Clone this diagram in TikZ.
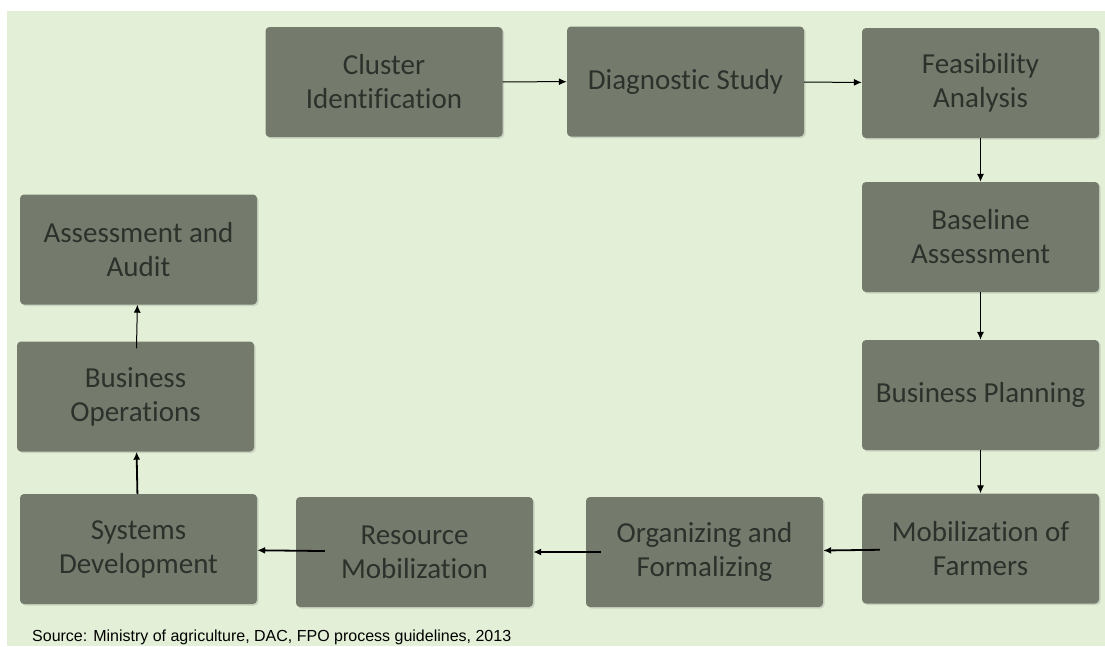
\documentclass[tikz,border=0pt]{standalone}
\usepackage{fontspec}
\setmainfont{Carlito}[Ligatures=CommonOff]
\newfontfamily\srcfont{Liberation Sans}
\usetikzlibrary{arrows.meta,shadows}
\definecolor{bgGreen}{RGB}{227,240,215}
\definecolor{boxGray}{RGB}{117,123,108}
\definecolor{txtGray}{RGB}{45,49,44}

\begin{document}
\begin{tikzpicture}[x=1pt,y=-1pt,>={Latex[length=8pt,width=7pt]},thin,
  stage/.style={rectangle,rounded corners=4pt,fill=boxGray,text=txtGray,
    minimum width=237pt,minimum height=110pt,inner sep=0pt,align=center,
    font=\fontsize{29}{34}\selectfont,
    drop shadow={shadow xshift=1.5pt,shadow yshift=-1.5pt,opacity=0.25}},
  flow/.style={->,line width=1pt},
  backflow/.style={->,line width=1.8pt}]
  \useasboundingbox (0,0) rectangle (1105,646);
  \fill[bgGreen] (7,11) rectangle (1105,646);
  % top row
  \node[stage] (clust) at (384,82) {Cluster\\Identification};
  \node[stage] (diag) at (685.5,81.5) {Diagnostic Study};
  \node[stage] (feas) at (980.5,83) {Feasibility\\Analysis};
  % right column
  \node[stage] (base) at (980.5,237) {Baseline\\Assessment};
  \node[stage] (plan) at (980.5,395) {Business Planning};
  \node[stage] (mob) at (980.5,548.5) {Mobilization of\\Farmers};
  % bottom row
  \node[stage] (org) at (704.5,552) {Organizing and\\Formalizing};
  \node[stage] (res) at (414.5,552) {Resource\\Mobilization};
  \node[stage] (sys) at (138.5,549) {Systems\\Development};
  % left column
  \node[stage] (ops) at (135.5,396.5) {Business\\Operations};
  \node[stage] (audit) at (138.5,249.5) {Assessment and\\Audit};
  \path (clust) edge[flow] (diag);
  \path (diag) edge[flow] (feas);
  \path (feas) edge[flow] (base);
  \path (base) edge[flow] (plan);
  \path (plan) edge[flow] (mob);
  \path (mob) edge[backflow,shorten <=-18pt] (org);
  \path (org) edge[backflow,shorten <=-15pt] (res);
  \path (res) edge[backflow,shorten <=-29pt] (sys);
  \path (sys) edge[backflow] (ops);
  \path (ops) edge[flow,shorten <=-7pt] (audit);
  \node[anchor=base west,inner sep=0pt,font=\srcfont\fontsize{16}{19}\selectfont]
    (src) at (32,641.5) {Source: Ministry of agriculture, DAC, FPO process guidelines, 2013};
\end{tikzpicture}
\end{document}
